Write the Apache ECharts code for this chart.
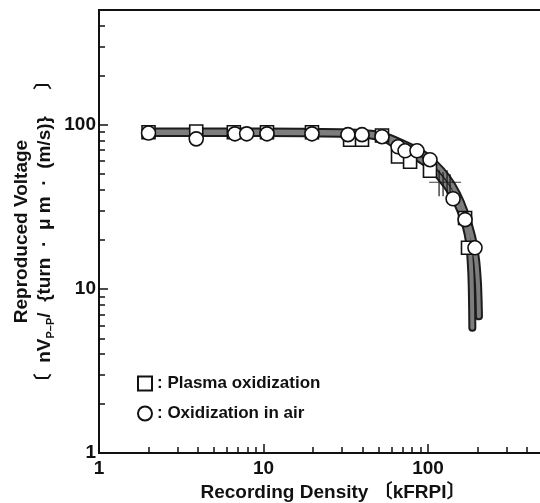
<!DOCTYPE html>
<html>
<head>
<meta charset="utf-8">
<script src="https://cdn.jsdelivr.net/npm/echarts@6/dist/echarts.min.js"></script>
<style>
  html, body { margin: 0; padding: 0; background: #fff; }
  #chart { width: 540px; height: 503px; }
</style>
</head>
<body>
<div id="chart"></div>
<script>
// tick values (log axes, both directions)
const majorTicks = [1, 10, 100];
const minorTicks = [2, 3, 4, 5, 6, 7, 8, 9, 20, 30, 40, 50, 60, 70, 80, 90, 200, 300, 400];

// Plasma oxidization (squares)
const plasmaX = [2, 3.9, 6.6, 10.5, 19.7, 33.6, 39.7, 52.5, 65.7, 77.8, 102.8, 168, 175];
const plasmaY = [90, 91, 90, 90, 90, 81, 81, 86, 64, 59.5, 52.4, 27, 17.8];

// Oxidization in air (circles)
const airX = [2, 3.9, 6.7, 7.9, 10.5, 19.7, 32.6, 39.7, 52.5, 65.7, 72.5, 85.7, 102.8, 142, 168, 193];
const airY = [89, 82, 88, 88, 88, 88, 87, 87, 84.5, 73.4, 69.4, 69.4, 61.2, 35.4, 26.4, 17.8];

// the two thick fitted bands
const bandAX = [2, 10, 30, 45, 55, 65, 80, 100, 120, 140, 155, 168, 178, 183, 185, 186];
const bandAY = [89, 89, 88, 86, 82, 74, 66, 57, 47, 38, 31, 25, 19, 13, 9, 5.8];
const bandBX = [2, 10, 30, 45, 55, 70, 90, 110, 130, 150, 168, 185, 196, 201, 203, 204];
const bandBY = [91, 91, 90, 88, 85, 77, 68, 58, 48, 38, 29, 21, 15, 11, 8.5, 6.8];

// crossing marks near 130 kFRPI
const crossX = [127];
const crossY = [44];

const font = "'Liberation Sans', 'Noto Sans CJK JP', sans-serif";
const zip = (xs, ys) => xs.map((x, i) => [x, ys[i]]);

function band(name, xs, ys, width, color, z) {
  return {
    name: name,
    type: "line",
    data: zip(xs, ys),
    smooth: 0.25,
    symbol: "none",
    z: z,
    silent: true,
    lineStyle: { width: width, color: color, cap: "round", join: "round" },
  };
}

function logAxis(extra) {
  return Object.assign({
    type: "log",
    logBase: 10,
    min: 1,
    max: 500,
    splitLine: { show: false },
  }, extra);
}

const chart = echarts.init(document.getElementById("chart"));
const option = {
  animation: false,
  backgroundColor: "#fff",
  grid: {
    left: 99,
    top: 10,
    bottom: 50,
    right: -3,
    show: true,
    borderColor: "#111",
    borderWidth: 2,
    outerBoundsMode: "none",
  },
  legend: {
    orient: "vertical",
    left: 132,
    top: 370,
    itemWidth: 14,
    itemHeight: 14,
    itemGap: 13,
    formatter: (n) => ": " + n,
    textStyle: { fontFamily: font, fontWeight: "bold", fontSize: 17, color: "#111" },
    data: ["Plasma oxidization", "Oxidization in air"],
  },
  xAxis: [
    logAxis({
      position: "bottom",
      axisLine: { lineStyle: { color: "#111", width: 2 } },
      axisTick: { inside: true, length: 9, customValues: majorTicks, lineStyle: { color: "#111", width: 1.5 } },
      axisLabel: {
        customValues: majorTicks, margin: 6,
        fontFamily: font, fontWeight: "bold", fontSize: 19, color: "#111",
      },
      name: "Recording Density 〔kFRPI〕",
      nameLocation: "middle",
      nameGap: 27,
      nameTextStyle: {
        fontFamily: font, fontWeight: "bold", fontSize: 19, color: "#111",
        padding: [0, 0, 0, 24],
      },
    }),
    logAxis({
      position: "bottom",
      axisLine: { show: false },
      axisTick: { inside: true, length: 6, customValues: minorTicks, lineStyle: { color: "#111", width: 1.5 } },
      axisLabel: { show: false },
    }),
  ],
  yAxis: [
    logAxis({
      position: "left",
      axisLine: { lineStyle: { color: "#111", width: 2 } },
      axisTick: { inside: true, length: 9, customValues: majorTicks, lineStyle: { color: "#111", width: 1.5 } },
      axisLabel: {
        customValues: majorTicks, margin: 3,
        fontFamily: font, fontWeight: "bold", fontSize: 19, color: "#111",
      },
      name: "Reproduced Voltage\n〔  nV{s|P–P}/  {turn  ·  μ m  ·  (m/s)}     〕",
      nameLocation: "middle",
      nameRotate: 90,
      nameGap: 43,
      nameMoveOverlap: false,
      nameTextStyle: {
        fontFamily: font, fontWeight: "bold", fontSize: 19, color: "#111",
        lineHeight: 23,
        rich: {
          s: { fontFamily: font, fontWeight: "bold", fontSize: 11, verticalAlign: "bottom", lineHeight: 23, color: "#111" },
        },
      },
    }),
    logAxis({
      position: "left",
      axisLine: { show: false },
      axisTick: { inside: true, length: 6, customValues: minorTicks, lineStyle: { color: "#111", width: 1.5 } },
      axisLabel: { show: false },
    }),
  ],
  series: [
    band("bandA-edge", bandAX, bandAY, 8, "#1c1c1c", 1),
    band("bandB-edge", bandBX, bandBY, 8, "#1c1c1c", 1),
    band("bandA", bandAX, bandAY, 4, "#7d7d7d", 2),
    band("bandB", bandBX, bandBY, 4, "#7d7d7d", 2),
    {
      name: "cross",
      type: "scatter",
      data: zip(crossX, crossY),
      symbol: "path://M0,12H32M10,0V26M14,2V26M18,0V24M21,4V26",
      symbolSize: [32, 26],
      z: 3,
      itemStyle: { color: "none", borderColor: "#111", borderWidth: 1.3 },
    },
    {
      name: "Plasma oxidization",
      type: "scatter",
      data: zip(plasmaX, plasmaY),
      symbol: "rect",
      symbolSize: 13,
      z: 4,
      itemStyle: { color: "#fff", borderColor: "#111", borderWidth: 1.6, opacity: 1 },
    },
    {
      name: "Oxidization in air",
      type: "scatter",
      data: zip(airX, airY),
      symbol: "circle",
      symbolSize: 14,
      z: 5,
      itemStyle: { color: "#fff", borderColor: "#111", borderWidth: 1.6, opacity: 1 },
    },
  ],
};
chart.setOption(option);
</script>
</body>
</html>
